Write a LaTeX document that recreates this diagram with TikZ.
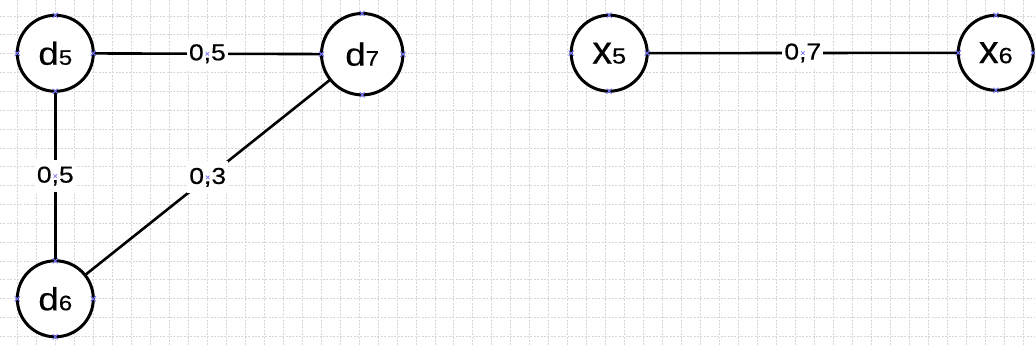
\documentclass[tikz,border=0pt]{standalone}
\usepackage{fontspec}
\setmainfont[FakeBold=0.4]{Liberation Sans}
\newfontfamily\widesans[FakeStretch=1.15,FakeBold=0.4]{Liberation Sans}
\definecolor{pinblue}{RGB}{115,115,245}
\definecolor{gridgray}{RGB}{214,214,214}
\begin{document}
\begin{tikzpicture}[x=1pt,y=-1pt,
  vertex/.style={circle,draw,line width=3pt,fill=white,inner sep=0pt,outer sep=0pt,minimum size=76pt},
  link/.style={line width=2.6pt},
  weight/.style={fill=white,inner sep=0pt,minimum width=41pt,minimum height=32pt,
    font=\widesans\fontsize{23}{23}\selectfont},
  pin/.style={draw=pinblue,line width=1pt},
  gridline/.style={draw=gridgray,line width=0.7pt,dash pattern=on 2pt off 1.4pt}]
\useasboundingbox[fill=white] (0,0) rectangle (1035,347);

% background grid
\foreach \k in {0,...,53}
  \draw[gridline] ({17.3+18.98*\k},0) -- ({17.3+18.98*\k},347);
\foreach \k in {0,...,17}
  \draw[gridline] (0,{16+18.84*\k}) -- (1035,{16+18.84*\k});

% vertices
\node[vertex] (d5) at (55.3,53.3)
  {\widesans\fontsize{32}{32}\selectfont d\fontsize{21}{21}\selectfont 5};
\node[vertex,minimum size=81.4pt] (d7) at (362.2,54.2)
  {\widesans\fontsize{32}{32}\selectfont d\fontsize{21}{21}\selectfont 7};
\node[vertex] (d6) at (55.3,298.8)
  {\widesans\fontsize{32}{32}\selectfont d\fontsize{21}{21}\selectfont 6};
\node[vertex] (x5) at (609.2,53.2)
  {{\fontsize{39.5}{40}\selectfont x}{\widesans\fontsize{22}{22}\selectfont 5}};
\node[vertex,minimum size=75pt] (x6) at (995.8,52.8)
  {{\fontsize{39.5}{40}\selectfont x}{\widesans\fontsize{22}{22}\selectfont 6}};

% weighted edges
\draw[link] (d5) -- node[weight] (w57) {0,5} (d7);
\draw[link] (d5) -- node[weight] (w56) {0,5} (d6);
\draw[link] (d6) -- node[weight] (w67) {0,3} (d7);
\draw[link] (x5) -- node[weight] (w56x) {0,7} (x6);

% connection points
\foreach \n in {d5,d6,d7,x5,x6}
  \foreach \a in {north,south,east,west}
    \draw[pin] (\n.\a) +(-2.5,-2.5) -- +(2.5,2.5) +(-2.5,2.5) -- +(2.5,-2.5);
\foreach \n in {w57,w56,w67,w56x}
  \draw[pin,line width=0.7pt] (\n.center) +(-1.8,-1.8) -- +(1.8,1.8) +(-1.8,1.8) -- +(1.8,-1.8);
\end{tikzpicture}
\end{document}
